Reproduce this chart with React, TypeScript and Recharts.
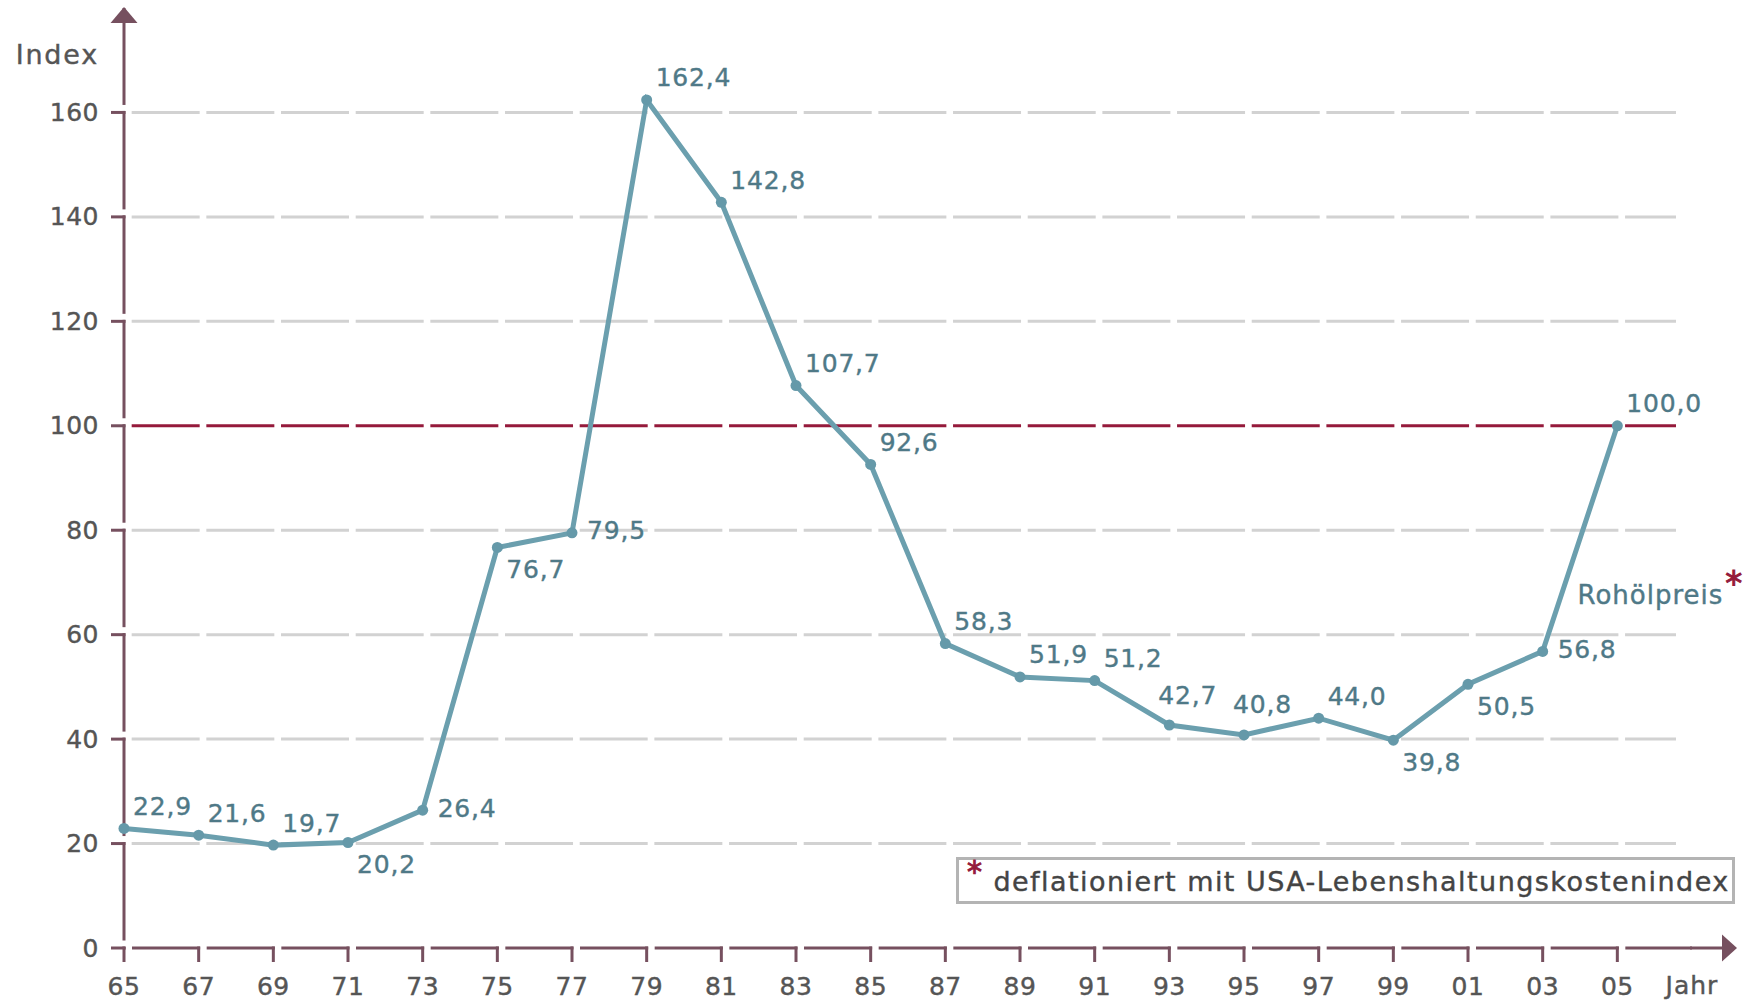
import React from "react";
import { LineChart, Line, XAxis, YAxis, CartesianGrid, LabelList } from "recharts";

// Rohölpreis-Index, 2005 = 100 (deflationiert)
const jahre = ["65", "67", "69", "71", "73", "75", "77", "79", "81", "83", "85", "87", "89", "91", "93", "95", "97", "99", "01", "03", "05"];
const rohoelpreis = [22.9, 21.6, 19.7, 20.2, 26.4, 76.7, 79.5, 162.4, 142.8, 107.7, 92.6, 58.3, 51.9, 51.2, 42.7, 40.8, 44.0, 39.8, 50.5, 56.8, 100.0];
const yTicks = [0, 20, 40, 60, 80, 100, 120, 140, 160, 180];
const grauLinien = [20, 40, 60, 80, 120, 140, 160];
const basisLinie = [100];
// wo das Wertelabel am Punkt sitzt: tr = oben rechts, br = unten rechts, r = rechts, t = oben
const labelLage = ["tr", "tr", "tr", "br", "r", "br", "r", "tr", "tr", "tr", "tr", "tr", "tr", "tr", "t", "t", "tr", "br", "br", "r", "tr"];

const data = [
  ...jahre.map((jahr, i) => ({ jahr, wert: rohoelpreis[i] })),
  { jahr: "Jahr", wert: null },
];

const ACHSE = "#76505f";
const ROT = "#951a3b";
const LINIE = "#6b9fae";
const LABEL = "#4f7987";
const TEXT = "#555555";
const FONT = "'DejaVu Sans', Verdana, sans-serif";

const fmt = (v: number) => v.toFixed(1).replace(".", ",");

// etwas kräftigere Schrift, wie die Pixelschrift im Original
const schrift = (farbe: string, groesse = 25, abstand = 0.5) => ({
  fill: farbe,
  stroke: farbe,
  strokeWidth: 0.4,
  fontSize: groesse,
  fontFamily: FONT,
  letterSpacing: abstand,
  dominantBaseline: "central" as const,
});

const YTick = (props: any) => {
  const { x, y, payload } = props;
  if (payload.value === 180) {
    return (
      <g>
        <polygon points={`${x - 13.5},${y + 15} ${x + 13.5},${y + 15} ${x},${y - 1}`} fill={ACHSE} />
        <text x={x - 25} y={y + 46} textAnchor="end" {...schrift(TEXT, 27, 1.8)}>
          Index
        </text>
      </g>
    );
  }
  return (
    <g>
      <rect x={x - 3} y={y - 7.5} width={6} height={6} fill="#fff" />
      <line x1={x - 13} y1={y} x2={x + 1.5} y2={y} stroke={ACHSE} strokeWidth={3} />
      <text x={x - 25} y={y} textAnchor="end" {...schrift(TEXT)}>
        {payload.value}
      </text>
    </g>
  );
};

const XTick = (props: any) => {
  const { x, y, payload } = props;
  if (payload.value === "Jahr") {
    return (
      <g>
        <line x1={x - 2} y1={y} x2={x + 31} y2={y} stroke={ACHSE} strokeWidth={3} />
        <polygon points={`${x + 30},${y - 13.5} ${x + 30},${y + 13.5} ${x + 45},${y}`} fill={ACHSE} />
        <text x={x} y={y + 37} textAnchor="middle" {...schrift(TEXT, 25, 1)}>
          Jahr
        </text>
      </g>
    );
  }
  return (
    <g>
      <rect x={x + 1.5} y={y - 2.5} width={6.5} height={5} fill="#fff" />
      <line x1={x} y1={y - 1.5} x2={x} y2={y + 14} stroke={ACHSE} strokeWidth={3} />
      <text x={x} y={y + 38} textAnchor="middle" {...schrift(TEXT)}>
        {payload.value}
      </text>
    </g>
  );
};

const versatz: Record<string, [number, number]> = {
  tr: [9, -22],
  br: [9, 22],
  r: [15, -2],
  t: [-11, -30],
};

const WertLabel = (props: any) => {
  const { x, y, value, index } = props;
  if (value == null) return null;
  const [dx, dy] = versatz[labelLage[index]];
  const letzter = index === rohoelpreis.length - 1;
  return (
    <g>
      <text x={x + dx} y={y + dy} textAnchor="start" {...schrift(LABEL, 25, 0.8)}>
        {fmt(value)}
      </text>
      {letzter && (
        <text x={x + 126} y={y + 169} textAnchor="end" {...schrift(LABEL, 26, 1)}>
          Rohölpreis
          <tspan fill={ROT} stroke={ROT} strokeWidth={1} dx={2} dy={-12} fontSize={34}>*</tspan>
        </text>
      )}
    </g>
  );
};

export default function App() {
  return (
    <div style={{ position: "absolute", left: 0, top: 0, width: 1758, height: 1000 }}>
      <LineChart width={1758} height={1000} data={data} margin={{ top: 8, right: 66, bottom: 0, left: 0 }}>
        <CartesianGrid
          horizontal
          vertical={false}
          horizontalValues={grauLinien}
          x={125}
          width={1551}
          stroke="#d2d2d2"
          strokeWidth={3}
          strokeDasharray="68 6.67"
          strokeDashoffset={68}
        />
        <CartesianGrid
          horizontal
          vertical={false}
          horizontalValues={basisLinie}
          x={125}
          width={1551}
          stroke={ROT}
          strokeWidth={3}
          strokeDasharray="68 6.67"
          strokeDashoffset={68}
        />
        <XAxis
          dataKey="jahr"
          interval={0}
          height={52}
          tickSize={0}
          tickMargin={0}
          axisLine={{ stroke: ACHSE, strokeWidth: 3 }}
          tickLine={false}
          tick={<XTick />}
        />
        <YAxis
          width={124}
          domain={[0, 180]}
          ticks={yTicks}
          interval={0}
          tickSize={0}
          tickMargin={0}
          axisLine={{ stroke: ACHSE, strokeWidth: 3 }}
          tickLine={false}
          tick={<YTick />}
        />
        <Line
          type="linear"
          dataKey="wert"
          stroke={LINIE}
          strokeWidth={5}
          dot={{ r: 5.5, fill: "#6599a9", stroke: "none" }}
          activeDot={false}
          isAnimationActive={false}
        >
          <LabelList dataKey="wert" content={<WertLabel />} />
        </Line>
      </LineChart>
      <div
        style={{
          position: "absolute",
          left: 956,
          top: 857,
          width: 773,
          height: 41,
          border: "3px solid #b4b4b4",
          fontFamily: FONT,
          fontSize: 27,
          letterSpacing: 1.45,
          color: "#444",
          WebkitTextStroke: "0.4px #444",
          lineHeight: "41px",
          whiteSpace: "nowrap",
          boxSizing: "content-box",
        }}
      >
        <span style={{ color: ROT, WebkitTextStroke: "1px " + ROT, position: "relative", top: -9, marginLeft: 8, marginRight: 10, fontSize: 30 }}>*</span>
        deflationiert mit USA-Lebenshaltungskostenindex
      </div>
    </div>
  );
}
